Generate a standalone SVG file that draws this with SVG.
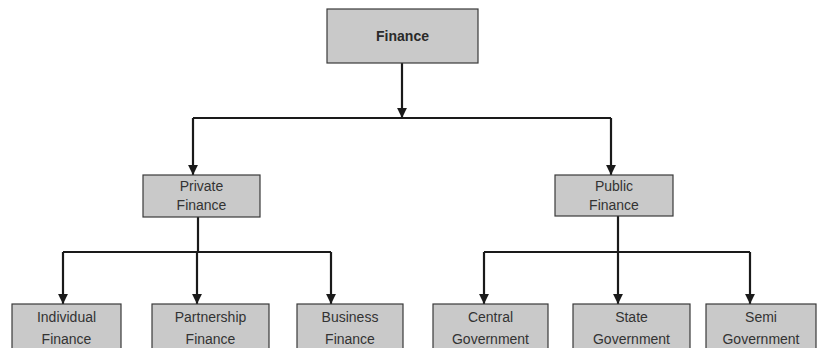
<svg xmlns="http://www.w3.org/2000/svg" width="817" height="348" viewBox="0 0 817 348">
  <defs>
    <marker id="arrow" viewBox="0 0 10 10" refX="10" refY="5" markerWidth="4.5" markerHeight="4.5" orient="auto" markerUnits="strokeWidth">
      <path d="M0,0 L10,5 L0,10 Z" fill="#1a1a1a"/>
    </marker>
    <style>
      .box { fill: #c9c9c9; stroke: #3a3a3a; stroke-width: 1.2; }
      .lbl { font-family: "Liberation Sans", Arial, sans-serif; font-size: 14px; fill: #333; text-anchor: middle; }
      .root { font-weight: bold; fill: #2a2a2a; }
      .wire { fill: none; stroke: #1a1a1a; stroke-width: 2.2; }
      .tip { fill: none; stroke: #1a1a1a; stroke-width: 2.2; marker-end: url(#arrow); }
    </style>
  </defs>
  <rect width="817" height="348" fill="#ffffff"/>

  <!-- connectors -->
  <g id="connectors">
    <line class="tip" x1="402" y1="63" x2="402" y2="118"/>
    <polyline class="wire" points="193,118 611,118"/>
    <line class="tip" x1="193" y1="118" x2="193" y2="175"/>
    <line class="tip" x1="611" y1="118" x2="611" y2="175"/>

    <line class="wire" x1="198" y1="217" x2="198" y2="252"/>
    <polyline class="wire" points="63,252 331,252"/>
    <line class="tip" x1="63" y1="252" x2="63" y2="304"/>
    <line class="tip" x1="197" y1="252" x2="197" y2="304"/>
    <line class="tip" x1="331" y1="252" x2="331" y2="304"/>

    <line class="wire" x1="618" y1="216" x2="618" y2="252"/>
    <polyline class="wire" points="484,252 750,252"/>
    <line class="tip" x1="484" y1="252" x2="484" y2="304"/>
    <line class="tip" x1="618" y1="252" x2="618" y2="304"/>
    <line class="tip" x1="750" y1="252" x2="750" y2="304"/>
  </g>

  <!-- root -->
  <g id="finance">
    <rect class="box" x="327" y="9" width="151" height="54"/>
    <text class="lbl root" x="402.5" y="41">Finance</text>
  </g>

  <!-- second level -->
  <g id="private-finance">
    <rect class="box" x="143" y="175" width="117" height="42"/>
    <text class="lbl" x="201.5" y="191">Private</text>
    <text class="lbl" x="201.5" y="210">Finance</text>
  </g>
  <g id="public-finance">
    <rect class="box" x="555" y="175" width="118" height="41"/>
    <text class="lbl" x="614" y="191">Public</text>
    <text class="lbl" x="614" y="210">Finance</text>
  </g>

  <!-- third level -->
  <g id="individual-finance">
    <rect class="box" x="12" y="304" width="109" height="50"/>
    <text class="lbl" x="66.5" y="322">Individual</text>
    <text class="lbl" x="66.5" y="344">Finance</text>
  </g>
  <g id="partnership-finance">
    <rect class="box" x="152" y="304" width="117" height="50"/>
    <text class="lbl" x="210.5" y="322">Partnership</text>
    <text class="lbl" x="210.5" y="344">Finance</text>
  </g>
  <g id="business-finance">
    <rect class="box" x="297" y="304" width="106" height="50"/>
    <text class="lbl" x="350" y="322">Business</text>
    <text class="lbl" x="350" y="344">Finance</text>
  </g>
  <g id="central-government">
    <rect class="box" x="433" y="304" width="115" height="50"/>
    <text class="lbl" x="490.5" y="322">Central</text>
    <text class="lbl" x="490.5" y="344">Government</text>
  </g>
  <g id="state-government">
    <rect class="box" x="573" y="304" width="117" height="50"/>
    <text class="lbl" x="631.5" y="322">State</text>
    <text class="lbl" x="631.5" y="344">Government</text>
  </g>
  <g id="semi-government">
    <rect class="box" x="706" y="304" width="110" height="50"/>
    <text class="lbl" x="761" y="322">Semi</text>
    <text class="lbl" x="761" y="344">Government</text>
  </g>
</svg>
